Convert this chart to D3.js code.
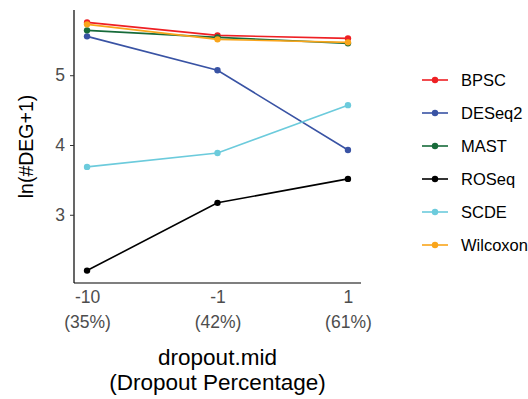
<!DOCTYPE html>
<html>
<head>
<meta charset="utf-8">
<script src="https://cdn.jsdelivr.net/npm/d3@7"></script>
<style>
body { margin: 0; background: #fff; }
svg { font-family: "Liberation Sans", Arial, sans-serif; }
</style>
</head>
<body>
<svg width="528" height="399"></svg>
<script>
// data
var dropout = ["-10", "-1", "1"];
var dropoutPct = ["(35%)", "(42%)", "(61%)"];
var methods = ["BPSC", "DESeq2", "MAST", "ROSeq", "SCDE", "Wilcoxon"];
var colors = ["#ee2024", "#3953a4", "#176b3a", "#000000", "#6ccbdc", "#f9a51b"];
var BPSC = [5.757, 5.571, 5.529];
var DESeq2 = [5.557, 5.071, 3.929];
var MAST = [5.643, 5.543, 5.457];
var ROSeq = [2.2, 3.171, 3.514];
var SCDE = [3.686, 3.886, 4.571];
var Wilcoxon = [5.729, 5.514, 5.471];
var yTicks = [3, 4, 5];

var series = [BPSC, DESeq2, MAST, ROSeq, SCDE, Wilcoxon];

var svg = d3.select("svg");
var mLeft = 74, mRight = 361, mTop = 10, mBottom = 283;

var x = d3.scalePoint().domain(dropout).range([mLeft, mRight]).padding(0.1);
var y = d3.scaleLinear().domain([2.022, 5.935]).range([mBottom, mTop]);

// y axis
var ya = svg.append("g")
    .attr("transform", "translate(" + mLeft + ",0)")
    .call(d3.axisLeft(y).tickValues(yTicks).tickSize(4).tickPadding(5).tickFormat(d3.format("d")));
ya.select(".domain").attr("d", "M0," + mTop + "V" + mBottom).attr("stroke", "#000").attr("stroke-width", 1.2);
ya.selectAll(".tick line").attr("stroke", "#333");
ya.selectAll(".tick text").attr("fill", "#4d4d4d").style("font-size", "17.5px");

// x axis (two-line labels)
var xa = svg.append("g")
    .attr("transform", "translate(0," + mBottom + ")")
    .call(d3.axisBottom(x).tickSize(0).tickPadding(8));
xa.select(".domain").attr("d", "M" + mLeft + ",0H" + mRight).attr("stroke", "#000").attr("stroke-width", 1.2);
xa.selectAll(".tick text").attr("fill", "#4d4d4d").style("font-size", "17.5px")
    .each(function (d, i) {
        d3.select(this).append("tspan").attr("x", 0).attr("dy", 25).text(dropoutPct[i]);
    });

// axis titles
svg.append("text")
    .attr("transform", "translate(33," + ((mTop + mBottom) / 2) + ") rotate(-90)")
    .attr("text-anchor", "middle")
    .style("font-size", "19.5px")
    .text("ln(#DEG+1)");
svg.append("text")
    .attr("x", (mLeft + mRight) / 2)
    .attr("y", 365)
    .attr("text-anchor", "middle")
    .style("font-size", "22.5px")
    .text("dropout.mid")
    .append("tspan").attr("x", (mLeft + mRight) / 2).attr("dy", 25).text("(Dropout Percentage)");

// lines and points
var line = d3.line()
    .x(function (d, i) { return x(dropout[i]); })
    .y(function (d) { return y(d); });

series.forEach(function (s, k) {
    svg.append("path")
        .datum(s)
        .attr("fill", "none")
        .attr("stroke", colors[k])
        .attr("stroke-width", 1.6)
        .attr("d", line);
    svg.selectAll(".pt" + k)
        .data(s)
        .enter().append("circle")
        .attr("cx", function (d, i) { return x(dropout[i]); })
        .attr("cy", function (d) { return y(d); })
        .attr("r", 3.2)
        .attr("fill", colors[k]);
});

// legend
var lg = svg.append("g").attr("transform", "translate(422,80)");
methods.forEach(function (m, k) {
    var g = lg.append("g").attr("transform", "translate(0," + (k * 33) + ")");
    g.append("line").attr("x1", 0).attr("x2", 26).attr("stroke", colors[k]).attr("stroke-width", 1.6);
    g.append("circle").attr("cx", 13).attr("r", 3.2).attr("fill", colors[k]);
    g.append("text").attr("x", 39).attr("dy", "0.35em").style("font-size", "16.5px").text(m);
});
</script>
</body>
</html>
